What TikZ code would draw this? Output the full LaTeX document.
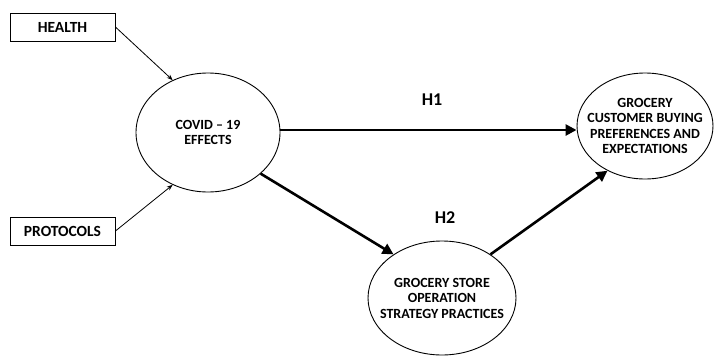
\documentclass[tikz,border=0pt]{standalone}
\usepackage{fontspec}
\setmainfont{Carlito}
\usetikzlibrary{arrows.meta,shapes.geometric}
\begin{document}
\begin{tikzpicture}[x=1pt,y=-1pt,
  box/.style={draw,line width=0.9pt,minimum width=105pt,minimum height=28pt,inner sep=0pt,font=\bfseries\fontsize{15.5}{17}\selectfont},
  oval/.style={draw,ellipse,line width=0.9pt,inner sep=-14pt,align=center,font=\bfseries\fontsize{14}{15.5}\selectfont},
  thin/.style={line width=0.8pt,-{Stealth[length=6pt,width=4.5pt]}},
  thick/.style={line width=2.6pt,-{Triangle[length=11pt,width=11pt]}},
  hlab/.style={font=\bfseries\fontsize{18}{20}\selectfont}]
\useasboundingbox (0,0) rectangle (714,356);
\node[box] (health) at (62.5,27) {HEALTH};
\node[box] (prot) at (62.5,231) {PROTOCOLS};
\node[oval,minimum width=144pt,minimum height=119pt] (covid) at (208,132.5) {COVID -- 19\\EFFECTS};
\node[oval,minimum width=136pt,minimum height=106pt] (cust) at (645,126) {GROCERY\\CUSTOMER BUYING\\PREFERENCES AND\\EXPECTATIONS};
\node[oval,minimum width=148pt,minimum height=114pt] (store) at (442,298) {GROCERY STORE\\OPERATION\\STRATEGY PRACTICES};
\node[hlab] (h1) at (432,100) {H1};
\node[hlab] (h2) at (445,218) {H2};
\draw[thin] (health.east) -- (covid.124);
\draw[thin] (prot.east) -- (covid.-124);
\draw[thick] (covid.east |- 0,130) -- (cust.west |- 0,130);
\draw[thick] (covid.-38) -- (store.138);
\draw[thick] (store.42) -- (cust.-130);
\end{tikzpicture}
\end{document}
